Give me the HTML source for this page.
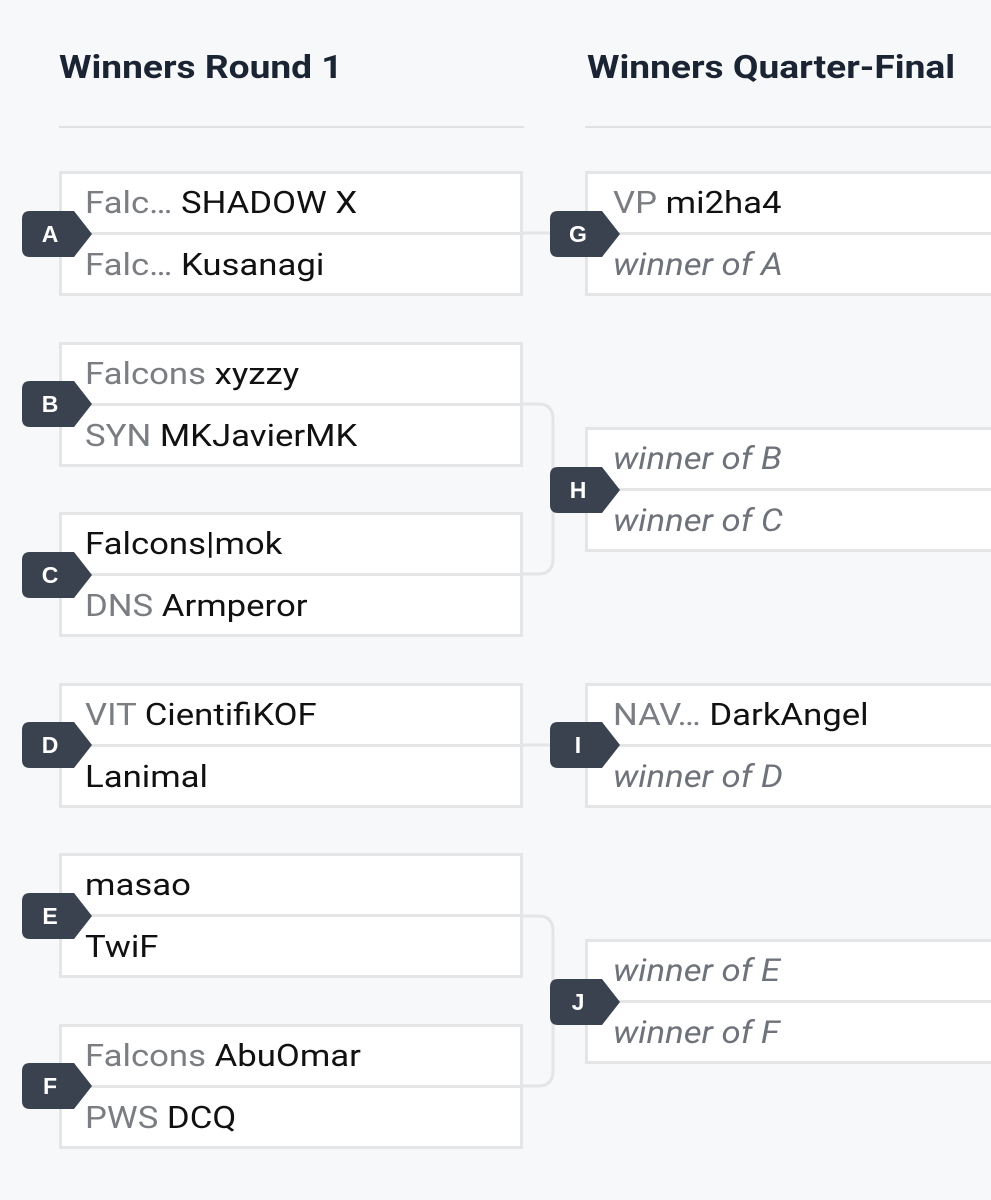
<!DOCTYPE html>
<html><head><meta charset="utf-8"><style>
body{margin:0;width:991px;height:1200px;background:#f7f8fa;position:relative;overflow:hidden;font-family:Roboto,"Liberation Sans",sans-serif;}
.h{position:absolute;top:48px;font-weight:bold;font-size:32px;color:#1b2433;transform:scaleX(1.16);transform-origin:left;white-space:nowrap;}
.hl{position:absolute;top:126px;height:2px;background:#dfe1e4;}
.box{position:absolute;width:458px;height:119px;background:#fff;border:3px solid #e4e5e7;}
.box .d{position:absolute;left:0;right:0;top:58px;height:3px;background:#e4e5e7;}
.r{position:absolute;left:23px;font-size:31px;color:#111;white-space:nowrap;line-height:34px;transform:scaleX(1.12);transform-origin:left;}
.r1{top:12px}.r2{top:74px}
.g{color:#7a7d82}
.w{color:#6e727a;font-style:italic}
</style></head><body>
<div class="h" style="left:59px">Winners Round 1</div>
<div class="h" style="left:587px">Winners Quarter-Final</div>
<div class="hl" style="left:59px;width:465px"></div>
<div class="hl" style="left:585px;width:406px"></div>

<svg style="position:absolute;left:0;top:0" width="991" height="1200">
<g fill="none" stroke="#e4e5e7" stroke-width="3">
<path d="M520 233 H555"/>
<path d="M520 404 H538 Q553 404 553 419 V559 Q553 574 538 574 H520"/>
<path d="M520 745 H555"/>
<path d="M520 916 H538 Q553 916 553 931 V1071 Q553 1086 538 1086 H520"/>
</g>
</svg>

<div class="box" style="left:59px;top:171px"><div class="d"></div><div class="r r1"><span class="g">Falc… </span>SHADOW X</div><div class="r r2"><span class="g">Falc… </span>Kusanagi</div></div>
<div class="box" style="left:59px;top:342px"><div class="d"></div><div class="r r1"><span class="g">Falcons </span>xyzzy</div><div class="r r2"><span class="g">SYN </span>MKJavierMK</div></div>
<div class="box" style="left:59px;top:512px"><div class="d"></div><div class="r r1">Falcons|mok</div><div class="r r2"><span class="g">DNS </span>Armperor</div></div>
<div class="box" style="left:59px;top:683px"><div class="d"></div><div class="r r1"><span class="g">VIT </span>CientifiKOF</div><div class="r r2">Lanimal</div></div>
<div class="box" style="left:59px;top:853px"><div class="d"></div><div class="r r1">masao</div><div class="r r2">TwiF</div></div>
<div class="box" style="left:59px;top:1024px"><div class="d"></div><div class="r r1"><span class="g">Falcons </span>AbuOmar</div><div class="r r2"><span class="g">PWS </span>DCQ</div></div>

<div class="box" style="left:585px;top:171px"><div class="d"></div><div class="r r1" style="left:25px"><span class="g">VP </span>mi2ha4</div><div class="r r2 w" style="left:25px">winner of A</div></div>
<div class="box" style="left:585px;top:427px"><div class="d"></div><div class="r r1 w" style="left:25px">winner of B</div><div class="r r2 w" style="left:25px">winner of C</div></div>
<div class="box" style="left:585px;top:683px"><div class="d"></div><div class="r r1" style="left:25px"><span class="g">NAV… </span>DarkAngel</div><div class="r r2 w" style="left:25px">winner of D</div></div>
<div class="box" style="left:585px;top:939px"><div class="d"></div><div class="r r1 w" style="left:25px">winner of E</div><div class="r r2 w" style="left:25px">winner of F</div></div>

<svg style="position:absolute;left:0;top:0" width="991" height="1200">
<defs><path id="bd" d="M8 0 H52 L70 23 L52 46 H8 Q0 46 0 38 V8 Q0 0 8 0 Z" fill="#3a4250"/></defs>
<g font-family="Liberation Sans,sans-serif" font-weight="bold" font-size="23" fill="#fff" text-anchor="middle">
<use href="#bd" x="22" y="211"/><text x="50" y="242">A</text>
<use href="#bd" x="22" y="381"/><text x="50" y="412">B</text>
<use href="#bd" x="22" y="552"/><text x="50" y="583">C</text>
<use href="#bd" x="22" y="722"/><text x="50" y="753">D</text>
<use href="#bd" x="22" y="893"/><text x="50" y="924">E</text>
<use href="#bd" x="22" y="1063"/><text x="50" y="1094">F</text>
<use href="#bd" x="550" y="211"/><text x="578" y="242">G</text>
<use href="#bd" x="550" y="467"/><text x="578" y="498">H</text>
<use href="#bd" x="550" y="722"/><text x="578" y="753">I</text>
<use href="#bd" x="550" y="979"/><text x="578" y="1010">J</text>
</g>
</svg>
</body></html>
